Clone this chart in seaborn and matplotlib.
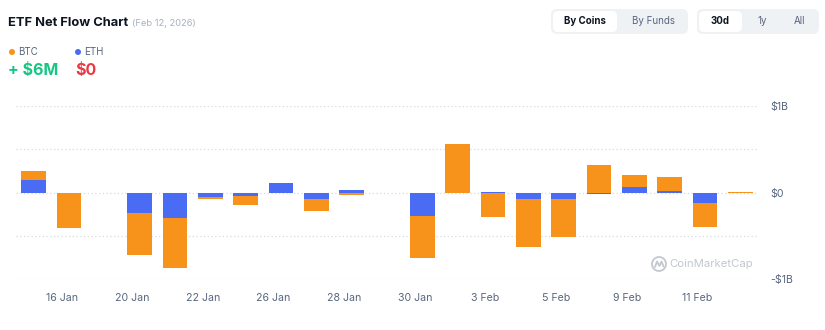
import matplotlib
matplotlib.use("Agg")
import matplotlib.pyplot as plt
from matplotlib.patches import FancyBboxPatch, Circle
import seaborn as sns
import numpy as np
import pandas as pd

# ---- data ----
dates = ["15 Jan", "16 Jan", "19 Jan", "20 Jan", "21 Jan", "22 Jan", "23 Jan",
         "26 Jan", "27 Jan", "28 Jan", "29 Jan", "30 Jan", "2 Feb", "3 Feb",
         "4 Feb", "5 Feb", "6 Feb", "9 Feb", "10 Feb", "11 Feb", "12 Feb"]
btc = [0.104, -0.400, 0.0, -0.482, -0.578, -0.028, -0.104,
       0.003, -0.146, -0.025, 0.0, -0.497, 0.566, -0.280,
       -0.550, -0.430, 0.320, 0.139, 0.158, -0.277, 0.006]
eth = [0.150, -0.005, 0.0, -0.235, -0.293, -0.050, -0.046,
       0.112, -0.070, 0.025, 0.0, -0.266, 0.0, 0.010,
       -0.077, -0.080, -0.015, 0.058, 0.020, -0.127, 0.0]
tick_labels = ["16 Jan", "20 Jan", "22 Jan", "26 Jan", "28 Jan", "30 Jan",
               "3 Feb", "5 Feb", "9 Feb", "11 Feb"]
y_ticks = [-1.0, -0.5, 0.0, 0.5, 1.0]
y_tick_labels = ["-$1B", "", "$0", "", "$1B"]

BTC_COLOR = "#F7931A"
ETH_COLOR = "#4A6CF4"
GRAY = "#58667E"

sns.set_style("white")
plt.rcParams["font.family"] = ["Inter", "DejaVu Sans"]

df = pd.DataFrame({"date": dates, "btc": btc, "eth": eth})
eth_arr = np.array(eth)
btc_arr = np.array(btc)
btc_bottom = np.where(np.sign(btc_arr) == np.sign(eth_arr), eth_arr, 0.0)

fig = plt.figure(figsize=(8.25, 3.3), dpi=100)
fig.patch.set_facecolor("white")

ax = fig.add_axes([16 / 825, 1 - 279 / 330, (758 - 16) / 825, (279 - 106) / 330])

sns.barplot(data=df, x="date", y="eth", order=dates, color=ETH_COLOR,
            saturation=1, width=0.7, ax=ax, zorder=3, linewidth=0)
sns.barplot(data=df, x="date", y="btc", order=dates, color=BTC_COLOR,
            saturation=1, width=0.7, ax=ax, zorder=3, linewidth=0,
            bottom=btc_bottom)

ax.set_xlim(-0.5, len(dates) - 0.5)
ax.set_ylim(-1.0, 1.0)
for y in y_ticks:
    ax.axhline(y, color="#D6DAE1", linewidth=0.9, linestyle=(0, (1, 2)), zorder=1)

idx = [dates.index(t) - 0.21 for t in tick_labels]
ax.set_xticks(idx)
ax.set_xticklabels(tick_labels)
ax.yaxis.tick_right()
ax.set_yticks(y_ticks)
ax.set_yticklabels(y_tick_labels)
for lab in ax.get_yticklabels():
    lab.set_horizontalalignment("left")
ax.tick_params(axis="x", length=0, pad=10, labelsize=7.6, colors=GRAY)
ax.tick_params(axis="y", length=0, pad=9, labelsize=7.6, colors=GRAY)
ax.set_xlabel("")
ax.set_ylabel("")
for s in ax.spines.values():
    s.set_visible(False)
ax.set_facecolor("none")

# ---- overlay for header elements ----
ov = fig.add_axes([0, 0, 1, 1], zorder=-1)
ov.set_xlim(0, 825)
ov.set_ylim(330, 0)
ov.axis("off")

ov.text(8, 22.5, "ETF Net Flow Chart", fontsize=9.3, fontweight="bold",
        color="#0D1421", va="center", ha="left")
ov.text(132.5, 23.5, "(Feb 12, 2026)", fontsize=6.7, color="#A6B0C3",
        va="center", ha="left")

ov.add_patch(Circle((12, 52), 3, color=BTC_COLOR, lw=0))
ov.text(18, 52, "BTC", fontsize=7, color=GRAY, va="center", ha="left")
ov.add_patch(Circle((78, 52), 3, color=ETH_COLOR, lw=0))
ov.text(84, 52, "ETH", fontsize=7, color=GRAY, va="center", ha="left")
ov.text(8, 71, "+ $6M", fontsize=11.5, fontweight="bold", color="#16C784",
        va="center", ha="left")
ov.text(75, 71, "$0", fontsize=11.5, fontweight="bold", color="#EA3943",
        va="center", ha="left")

def rbox(x0, y0, x1, y1, r, color):
    ov.add_patch(FancyBboxPatch((x0 + r, y0 + r), x1 - x0 - 2 * r, y1 - y0 - 2 * r,
                                boxstyle=f"round,pad={r}", fc=color, ec="none"))

rbox(551, 9, 688, 34, 6, "#EFF2F5")
rbox(553, 11, 617, 32, 5, "white")
ov.text(585, 21.5, "By Coins", fontsize=7, fontweight="bold", color="#0D1421",
        ha="center", va="center")
ov.text(654, 21.5, "By Funds", fontsize=7, color=GRAY, ha="center", va="center")
rbox(697, 9, 819, 34, 6, "#EFF2F5")
rbox(699, 11, 742, 32, 5, "white")
ov.text(720, 21.5, "30d", fontsize=7, fontweight="bold", color="#0D1421",
        ha="center", va="center")
ov.text(762, 21.5, "1y", fontsize=7, color=GRAY, ha="center", va="center")
ov.text(799, 21.5, "All", fontsize=7, color=GRAY, ha="center", va="center")

# watermark
ov.add_patch(Circle((659, 264), 7, fill=False, ec="#C3C8D0", lw=1.3))
ov.plot([655, 657, 659.5, 661.5, 663.5], [267, 261.5, 266, 261.5, 266.5],
        color="#C3C8D0", lw=1.3, solid_capstyle="round")
ov.text(669, 264, "CoinMarketCap", fontsize=8.2, color="#C3C8D0",
        ha="left", va="center")

fig.savefig("out.png", dpi=100, facecolor="white")
